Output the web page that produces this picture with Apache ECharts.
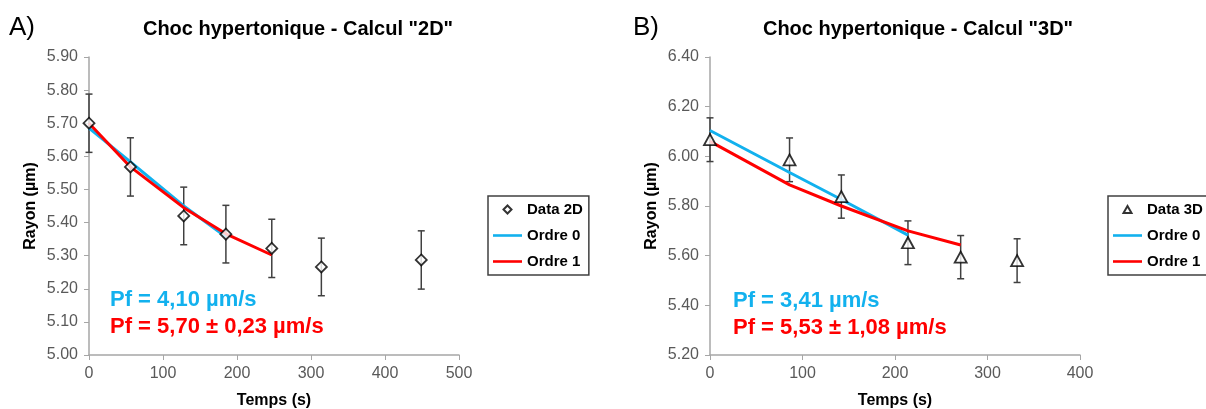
<!DOCTYPE html>
<html>
<head>
<meta charset="utf-8">
<script src="https://cdn.jsdelivr.net/npm/echarts@6/dist/echarts.min.js"></script>
<style>
html,body{margin:0;padding:0;background:#fff;}
#chart{width:1206px;height:409px;}
</style>
</head>
<body>
<div id="chart"></div>
<script>
// ---- Panel A data (Calcul "2D") ----
const timeA = [0, 56, 128, 185, 247, 314, 449];
const rayonA = [5.70, 5.568, 5.42, 5.365, 5.322, 5.266, 5.287];
const errA = [0.088, 0.088, 0.087, 0.087, 0.088, 0.087, 0.088];
const fit0TimeA = [0, 56, 128, 185];
const fit0A = [5.685, 5.583, 5.450, 5.357];
const fit1TimeA = [0, 56, 128, 185, 247];
const fit1A = [5.70, 5.568, 5.445, 5.366, 5.302];

// ---- Panel B data (Calcul "3D") ----
const timeB = [0, 86, 142, 214, 271, 332];
const rayonB = [6.067, 5.986, 5.838, 5.652, 5.594, 5.58];
const errB = [0.088, 0.088, 0.087, 0.088, 0.087, 0.088];
const fit0TimeB = [0, 86, 142, 214];
const fit0B = [6.104, 5.935, 5.826, 5.683];
const fit1TimeB = [0, 86, 142, 214, 271];
const fit1B = [6.06, 5.885, 5.80, 5.70, 5.643];

// ---- Texts ----
const titleA = 'Choc hypertonique - Calcul "2D"';
const titleB = 'Choc hypertonique - Calcul "3D"';
const pf0A = 'Pf = 4,10 µm/s';
const pf1A = 'Pf = 5,70 ± 0,23 µm/s';
const pf0B = 'Pf = 3,41 µm/s';
const pf1B = 'Pf = 5,53 ± 1,08 µm/s';

const FONT = '"Liberation Sans", Arial, sans-serif';
const BLUE = '#12b1ee';
const RED = '#ff0000';
const AXIS = '#a6a6a6';
const LABEL = '#595959';

// legend icons (bounding box padded to the 29x9 legend icon cell)
const ICON_LINE = 'path://M0,0L29,0L29,2.6L0,2.6Z';
const ICON_DIAMOND = 'path://M0,0M29,9M10.5,4.5L14.5,0.5L18.5,4.5L14.5,8.5Z';
const ICON_TRIANGLE = 'path://M0,0M29,9M10.5,8L14.5,1L18.5,8Z';

const zip = (a, b) => a.map((v, i) => [v, b[i]]);
const errData = (t, r, e) => t.map((v, i) => [v, r[i] - e[i], r[i] + e[i]]);

function errRender(params, api) {
  const x = api.value(0), lo = api.value(1), hi = api.value(2);
  const p1 = api.coord([x, hi]);
  const p2 = api.coord([x, lo]);
  const w = 3.5;
  const st = { stroke: '#404040', lineWidth: 1.5 };
  return {
    type: 'group',
    children: [
      { type: 'line', shape: { x1: p1[0], y1: p1[1], x2: p2[0], y2: p2[1] }, style: st },
      { type: 'line', shape: { x1: p1[0] - w, y1: p1[1], x2: p1[0] + w, y2: p1[1] }, style: st },
      { type: 'line', shape: { x1: p2[0] - w, y1: p2[1], x2: p2[0] + w, y2: p2[1] }, style: st }
    ]
  };
}

function xAx(idx, max) {
  return {
    gridIndex: idx, type: 'value', min: 0, max: max, interval: 100,
    name: 'Temps (s)', nameLocation: 'middle', nameGap: 38,
    nameTextStyle: { fontFamily: FONT, fontSize: 16, fontWeight: 'bold', color: '#000' },
    axisLine: { show: true, onZero: false, lineStyle: { color: AXIS, width: 1.5 } },
    axisTick: { show: true, length: 5, lineStyle: { color: AXIS } },
    axisLabel: { fontFamily: FONT, fontSize: 16, color: LABEL, margin: 11 },
    splitLine: { show: false }
  };
}
function yAx(idx, min, max, interval) {
  return {
    gridIndex: idx, type: 'value', min: min, max: max, interval: interval,
    name: 'Rayon (µm)', nameLocation: 'middle', nameGap: 50, nameRotate: 90,
    nameTextStyle: { fontFamily: FONT, fontSize: 16, fontWeight: 'bold', color: '#000' },
    axisLine: { show: true, onZero: false, lineStyle: { color: AXIS, width: 1.5 } },
    axisTick: { show: true, length: 5, lineStyle: { color: AXIS } },
    axisLabel: { fontFamily: FONT, fontSize: 16, color: LABEL, margin: 11,
      formatter: v => v.toFixed(2) },
    splitLine: { show: false }
  };
}
function legendAt(left, dataName, dataIcon) {
  return {
    left: left, top: 196, orient: 'vertical',
    data: [
      { name: dataName, icon: dataIcon },
      { name: 'Ordre 0', icon: ICON_LINE },
      { name: 'Ordre 1', icon: ICON_LINE }
    ],
    backgroundColor: '#fff', borderColor: '#404040', borderWidth: 1.5,
    padding: [6, 6, 6, 4], itemGap: 11, itemWidth: 29, itemHeight: 9,
    textStyle: { fontFamily: FONT, fontSize: 15, fontWeight: 'bold', color: '#000' },
    selectedMode: false
  };
}
function textEl(x, y, text, size, color, weight, align) {
  return { type: 'text', x: x, y: y, style: { text: text, fontFamily: FONT, fontSize: size,
    fontWeight: weight, fill: color, textAlign: align || 'left', textVerticalAlign: 'middle' } };
}

const chart = echarts.init(document.getElementById('chart'), null, { renderer: 'canvas' });
chart.setOption({
  animation: false,
  backgroundColor: '#fff',
  grid: [
    { left: 89, top: 57, width: 370, height: 298, containLabel: false, outerBoundsMode: 'none' },
    { left: 710, top: 57, width: 370, height: 298, containLabel: false, outerBoundsMode: 'none' }
  ],
  xAxis: [xAx(0, 500), xAx(1, 400)],
  yAxis: [yAx(0, 5.0, 5.9, 0.1), yAx(1, 5.2, 6.4, 0.2)],
  legend: [legendAt(488, 'Data 2D', ICON_DIAMOND), legendAt(1108, 'Data 3D', ICON_TRIANGLE)],
  graphic: [
    textEl(9, 28, 'A)', 26, '#000', 'normal'),
    textEl(633, 28, 'B)', 26, '#000', 'normal'),
    textEl(298, 29, titleA, 20, '#000', 'bold', 'center'),
    textEl(918, 29, titleB, 20, '#000', 'bold', 'center'),
    textEl(110, 300, pf0A, 22, BLUE, 'bold'),
    textEl(110, 327, pf1A, 22, RED, 'bold'),
    textEl(733, 301, pf0B, 22, BLUE, 'bold'),
    textEl(733, 328, pf1B, 22, RED, 'bold')
  ],
  series: [
    { type: 'custom', name: 'errA', xAxisIndex: 0, yAxisIndex: 0, renderItem: errRender,
      data: errData(timeA, rayonA, errA), encode: { x: 0, y: [1, 2] }, z: 1, silent: true },
    { type: 'line', name: 'Ordre 0', xAxisIndex: 0, yAxisIndex: 0, data: zip(fit0TimeA, fit0A),
      symbol: 'none', lineStyle: { color: BLUE, width: 3 }, itemStyle: { color: BLUE }, z: 2 },
    { type: 'line', name: 'Ordre 1', xAxisIndex: 0, yAxisIndex: 0, data: zip(fit1TimeA, fit1A),
      symbol: 'none', lineStyle: { color: RED, width: 3 }, itemStyle: { color: RED }, z: 3 },
    { type: 'scatter', name: 'Data 2D', xAxisIndex: 0, yAxisIndex: 0, data: zip(timeA, rayonA),
      symbol: 'diamond', symbolSize: [11, 11],
      itemStyle: { color: '#fff', borderColor: '#000', borderWidth: 1.8 }, z: 4 },

    { type: 'custom', name: 'errB', xAxisIndex: 1, yAxisIndex: 1, renderItem: errRender,
      data: errData(timeB, rayonB, errB), encode: { x: 0, y: [1, 2] }, z: 1, silent: true },
    { type: 'line', name: 'Ordre 0', xAxisIndex: 1, yAxisIndex: 1, data: zip(fit0TimeB, fit0B),
      symbol: 'none', lineStyle: { color: BLUE, width: 3 }, itemStyle: { color: BLUE }, z: 2 },
    { type: 'line', name: 'Ordre 1', xAxisIndex: 1, yAxisIndex: 1, data: zip(fit1TimeB, fit1B),
      symbol: 'none', lineStyle: { color: RED, width: 3 }, itemStyle: { color: RED }, z: 3 },
    { type: 'scatter', name: 'Data 3D', xAxisIndex: 1, yAxisIndex: 1, data: zip(timeB, rayonB),
      symbol: 'triangle', symbolSize: [12, 11],
      itemStyle: { color: '#fff', borderColor: '#000', borderWidth: 1.8 }, z: 4 }
  ]
});
</script>
</body>
</html>
